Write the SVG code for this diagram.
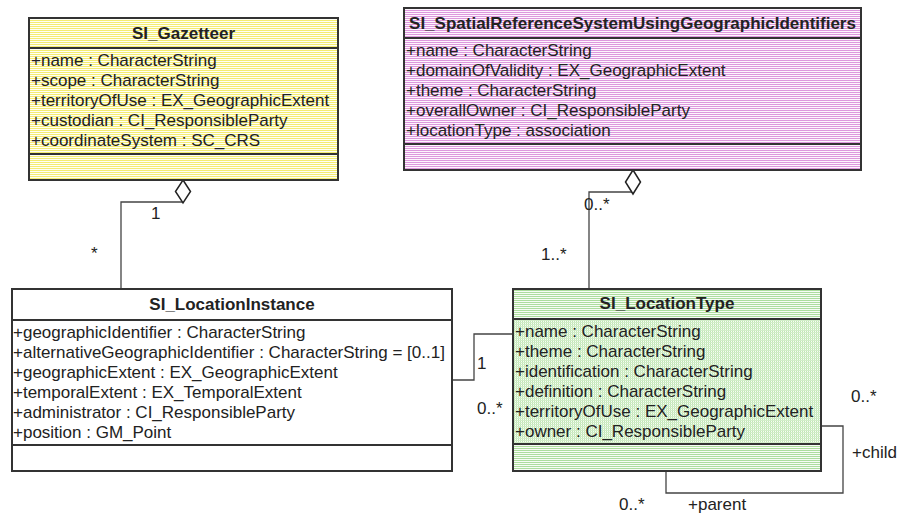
<svg xmlns="http://www.w3.org/2000/svg" width="898" height="515" viewBox="0 0 898 515">
  <defs>
    <!-- striped fills for the class boxes -->
    <pattern id="stripeYellow" width="4" height="2" patternUnits="userSpaceOnUse">
      <rect width="4" height="2" fill="#fffff4"/>
      <rect width="4" height="1" fill="#f4ec72"/>
    </pattern>
    <pattern id="stripePink" width="4" height="2" patternUnits="userSpaceOnUse">
      <rect width="4" height="2" fill="#fdf6fd"/>
      <rect width="4" height="1" fill="#dd98dd"/>
    </pattern>
    <pattern id="stripeGreen" width="4" height="2" patternUnits="userSpaceOnUse">
      <rect width="4" height="2" fill="#f7fcf5"/>
      <rect width="4" height="1" fill="#addd9e"/>
    </pattern>
    <pattern id="dotGreen" width="2" height="2" patternUnits="userSpaceOnUse">
      <rect width="2" height="2" fill="#f7fcf5"/>
      <rect width="2" height="1" fill="#d2eec9"/>
      <rect x="0" y="1" width="1" height="1" fill="#c0e6b4"/>
    </pattern>
  </defs>
  <style>
    .box { stroke: #333; stroke-width: 2; }
    .div { stroke: #333; stroke-width: 2; fill: none; }
    .title { font-family: "Liberation Sans", Arial, sans-serif; font-size: 17px; font-weight: bold; fill: #222; text-anchor: middle; }
    .attr { font-family: "Liberation Sans", Arial, sans-serif; font-size: 17px; fill: #222; }
    .lbl { font-family: "Liberation Sans", Arial, sans-serif; font-size: 17px; fill: #222; }
    .conn { stroke: #444; stroke-width: 1.3; fill: none; }
    .diamond { stroke: #222; stroke-width: 1.5; fill: #fff; }
  </style>
  <rect width="898" height="515" fill="#fff"/>

  <!-- connectors -->
  <g id="connectors">
    <path class="conn" d="M183,202 H121 V289"/>
    <polygon class="diamond" points="183,180 190.5,191.5 183,203 175.5,191.5"/>
    <path class="conn" d="M633,192 H589 V289"/>
    <polygon class="diamond" points="633,170 640.5,182 633,194 625.5,182"/>
    <path class="conn" d="M452,380 H474 V334 H513"/>
    <path class="conn" d="M821,426 H843 V493 H666 V471"/>
    <text class="lbl" x="151" y="219">1</text>
    <text class="lbl" x="91" y="258.5">*</text>
    <text class="lbl" x="584" y="209.5">0..*</text>
    <text class="lbl" x="541" y="260">1..*</text>
    <text class="lbl" x="477" y="368.5">1</text>
    <text class="lbl" x="477" y="414">0..*</text>
    <text class="lbl" x="851" y="402">0..*</text>
    <text class="lbl" x="852" y="458">+child</text>
    <text class="lbl" x="619" y="510">0..*</text>
    <text class="lbl" x="688" y="510">+parent</text>
  </g>

  <!-- SI_Gazetteer -->
  <g id="SI_Gazetteer">
    <rect class="box" x="29" y="18" width="309" height="162" fill="url(#stripeYellow)"/>
    <path class="div" d="M29,48 H338 M29,154 H338"/>
    <text class="title" x="183.5" y="38.5">SI_Gazetteer</text>
    <text class="attr" x="31" y="65.7">+name : CharacterString</text>
    <text class="attr" x="31" y="85.7">+scope : CharacterString</text>
    <text class="attr" x="31" y="105.7">+territoryOfUse : EX_GeographicExtent</text>
    <text class="attr" x="31" y="125.7">+custodian : CI_ResponsibleParty</text>
    <text class="attr" x="31" y="145.7">+coordinateSystem : SC_CRS</text>
  </g>

  <!-- SI_SpatialReferenceSystemUsingGeographicIdentifiers -->
  <g id="SI_SpatialReferenceSystemUsingGeographicIdentifiers">
    <rect class="box" x="404" y="8" width="457" height="162" fill="url(#stripePink)"/>
    <path class="div" d="M404,38 H861 M404,144 H861"/>
    <text class="title" x="632.5" y="28.5">SI_SpatialReferenceSystemUsingGeographicIdentifiers</text>
    <text class="attr" x="406" y="56">+name : CharacterString</text>
    <text class="attr" x="406" y="76">+domainOfValidity : EX_GeographicExtent</text>
    <text class="attr" x="406" y="96">+theme : CharacterString</text>
    <text class="attr" x="406" y="116">+overallOwner : CI_ResponsibleParty</text>
    <text class="attr" x="406" y="136">+locationType : association</text>
  </g>

  <!-- SI_LocationInstance -->
  <g id="SI_LocationInstance">
    <rect class="box" x="12" y="289" width="440" height="182" fill="#fff"/>
    <path class="div" d="M12,320 H452 M12,445 H452"/>
    <text class="title" x="232" y="309.5">SI_LocationInstance</text>
    <text class="attr" x="13" y="338">+geographicIdentifier : CharacterString</text>
    <text class="attr" x="13" y="358">+alternativeGeographicIdentifier : CharacterString = [0..1]</text>
    <text class="attr" x="13" y="378">+geographicExtent : EX_GeographicExtent</text>
    <text class="attr" x="13" y="398">+temporalExtent : EX_TemporalExtent</text>
    <text class="attr" x="13" y="418">+administrator : CI_ResponsibleParty</text>
    <text class="attr" x="13" y="438">+position : GM_Point</text>
  </g>

  <!-- SI_LocationType -->
  <g id="SI_LocationType">
    <rect x="513" y="289" width="308" height="182" fill="url(#stripeGreen)"/>
    <rect x="513" y="319" width="308" height="125" fill="url(#dotGreen)"/>
    <rect class="box" x="513" y="289" width="308" height="182" fill="none"/>
    <path class="div" d="M513,319 H821 M513,444 H821"/>
    <text class="title" x="667" y="309">SI_LocationType</text>
    <text class="attr" x="515" y="337">+name : CharacterString</text>
    <text class="attr" x="515" y="357">+theme : CharacterString</text>
    <text class="attr" x="515" y="377">+identification : CharacterString</text>
    <text class="attr" x="515" y="397">+definition : CharacterString</text>
    <text class="attr" x="515" y="417">+territoryOfUse : EX_GeographicExtent</text>
    <text class="attr" x="515" y="437">+owner : CI_ResponsibleParty</text>
  </g>
</svg>
